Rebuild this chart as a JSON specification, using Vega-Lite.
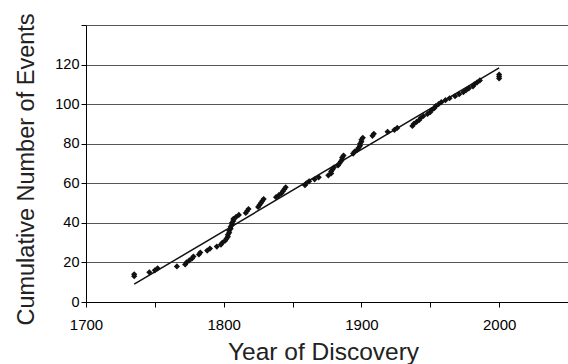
{
  "$schema": "https://vega.github.io/schema/vega-lite/v6.json",
  "width": 482,
  "height": 277,
  "autosize": {"type": "none"},
  "padding": {"left": 86, "top": 25, "right": 0, "bottom": 62},
  "background": "white",
  "config": {
    "view": {"stroke": null},
    "font": "Liberation Sans",
    "axis": {"labelFont": "Liberation Sans", "titleFont": "Liberation Sans", "labelColor": "#000", "titleColor": "#222", "titleFontWeight": "normal", "labelOverlap": false}
  },
  "datasets": {
    "events": [
      {"year": 1735, "count": 13}, {"year": 1735, "count": 14},
      {"year": 1746, "count": 15}, {"year": 1750, "count": 16}, {"year": 1752, "count": 17},
      {"year": 1766, "count": 18}, {"year": 1772, "count": 19}, {"year": 1773, "count": 20},
      {"year": 1775, "count": 21}, {"year": 1777, "count": 22}, {"year": 1778, "count": 23},
      {"year": 1782, "count": 24}, {"year": 1783, "count": 25}, {"year": 1788, "count": 26},
      {"year": 1790, "count": 27}, {"year": 1795, "count": 28}, {"year": 1798, "count": 29},
      {"year": 1799, "count": 30}, {"year": 1801, "count": 31}, {"year": 1802, "count": 32},
      {"year": 1803, "count": 33}, {"year": 1803, "count": 34}, {"year": 1804, "count": 35},
      {"year": 1804, "count": 36}, {"year": 1805, "count": 37}, {"year": 1805, "count": 38},
      {"year": 1806, "count": 39}, {"year": 1806, "count": 40}, {"year": 1807, "count": 41},
      {"year": 1807, "count": 42}, {"year": 1809, "count": 43}, {"year": 1811, "count": 44},
      {"year": 1816, "count": 45}, {"year": 1817, "count": 46}, {"year": 1818, "count": 47},
      {"year": 1825, "count": 48}, {"year": 1826, "count": 49}, {"year": 1827, "count": 50},
      {"year": 1828, "count": 51}, {"year": 1829, "count": 52}, {"year": 1838, "count": 53},
      {"year": 1840, "count": 54}, {"year": 1842, "count": 55}, {"year": 1843, "count": 56},
      {"year": 1844, "count": 57}, {"year": 1845, "count": 58}, {"year": 1859, "count": 59},
      {"year": 1860, "count": 60}, {"year": 1862, "count": 61}, {"year": 1866, "count": 62},
      {"year": 1869, "count": 63}, {"year": 1876, "count": 64}, {"year": 1878, "count": 65},
      {"year": 1878, "count": 66}, {"year": 1879, "count": 67}, {"year": 1880, "count": 68},
      {"year": 1883, "count": 69}, {"year": 1884, "count": 70}, {"year": 1885, "count": 71},
      {"year": 1886, "count": 72}, {"year": 1886, "count": 73}, {"year": 1887, "count": 74},
      {"year": 1894, "count": 75}, {"year": 1895, "count": 76}, {"year": 1897, "count": 77},
      {"year": 1898, "count": 78}, {"year": 1899, "count": 79}, {"year": 1899, "count": 80},
      {"year": 1900, "count": 81}, {"year": 1900, "count": 82}, {"year": 1901, "count": 83},
      {"year": 1908, "count": 84}, {"year": 1909, "count": 85}, {"year": 1919, "count": 86},
      {"year": 1924, "count": 87}, {"year": 1926, "count": 88}, {"year": 1937, "count": 89},
      {"year": 1938, "count": 90}, {"year": 1940, "count": 91}, {"year": 1942, "count": 92},
      {"year": 1943, "count": 93}, {"year": 1945, "count": 94}, {"year": 1948, "count": 95},
      {"year": 1950, "count": 96}, {"year": 1951, "count": 97}, {"year": 1953, "count": 98},
      {"year": 1954, "count": 99}, {"year": 1956, "count": 100}, {"year": 1958, "count": 101},
      {"year": 1961, "count": 102}, {"year": 1964, "count": 103}, {"year": 1968, "count": 104},
      {"year": 1971, "count": 105}, {"year": 1974, "count": 106}, {"year": 1976, "count": 107},
      {"year": 1978, "count": 108}, {"year": 1981, "count": 109}, {"year": 1982, "count": 110},
      {"year": 1984, "count": 111}, {"year": 1986, "count": 112}, {"year": 2000, "count": 113},
      {"year": 2000, "count": 114}, {"year": 2000, "count": 115}
    ],
    "trend": [
      {"year": 1735, "count": 9},
      {"year": 2000, "count": 118.3}
    ]
  },
  "layer": [
    {
      "data": {"name": "events"},
      "mark": {"type": "point", "shape": "diamond", "filled": true, "color": "#111", "size": 38, "opacity": 1},
      "encoding": {
        "x": {
          "field": "year", "type": "quantitative",
          "scale": {"domain": [1700, 2050], "nice": false, "zero": false},
          "axis": {
            "title": "Year of Discovery", "titleFontSize": 24.5,
            "titleBaseline": "alphabetic", "titleY": 57, "titleX": 237,
            "values": [1700, 1750, 1800, 1850, 1900, 1950, 2000, 2050],
            "tickCount": 20,
            "labelExpr": "datum.value % 100 == 0 && datum.value < 2050 ? format(datum.value, 'd') : ''",
            "labelFontSize": 15, "labelPadding": 10, "tickSize": 5,
            "tickColor": "#000", "domainColor": "#000", "grid": false, "labelFlush": false
          }
        },
        "y": {
          "field": "count", "type": "quantitative",
          "scale": {"domain": [0, 140], "nice": false},
          "axis": {
            "title": "Cumulative Number of Events", "titleFontSize": 23.5,
            "titleBaseline": "alphabetic", "titleX": -53, "titleY": 144,
            "values": [0, 20, 40, 60, 80, 100, 120, 140],
            "tickCount": 20,
            "labelExpr": "datum.value < 140 ? datum.label : ''",
            "labelFontSize": 14.5, "labelPadding": 2, "tickSize": 5,
            "tickColor": "#000", "domainColor": "#000",
            "grid": true, "gridColor": "#555", "gridWidth": 1, "gridOpacity": 1
          }
        }
      }
    },
    {
      "data": {"name": "trend"},
      "mark": {"type": "line", "color": "#111", "strokeWidth": 1.5},
      "encoding": {
        "x": {"field": "year", "type": "quantitative"},
        "y": {"field": "count", "type": "quantitative"}
      }
    }
  ]
}
